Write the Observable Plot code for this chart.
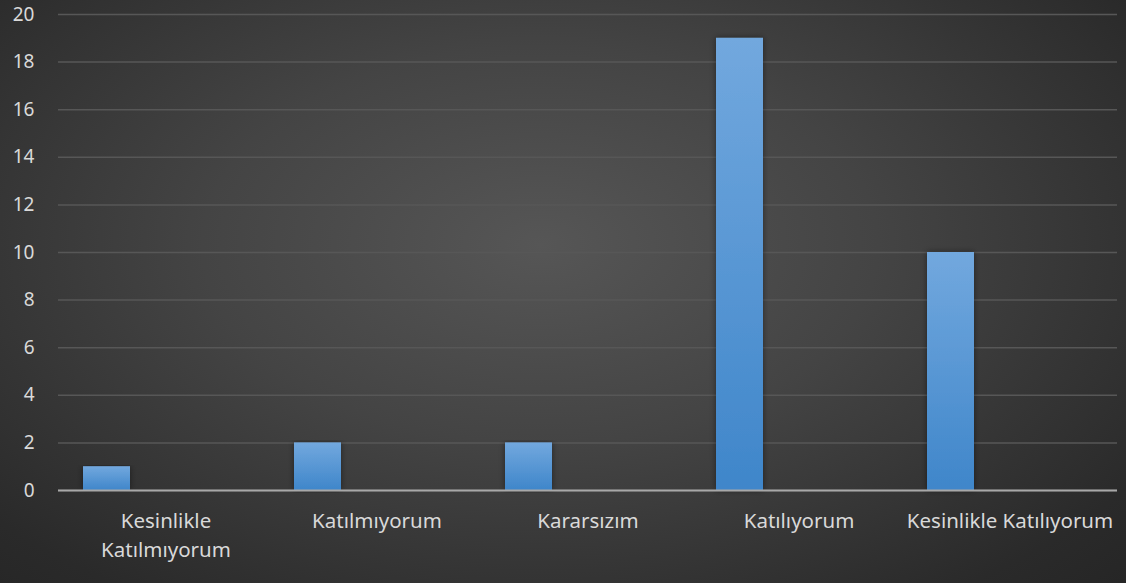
<!DOCTYPE html>
<html><head><meta charset="utf-8">
<script src="https://cdn.jsdelivr.net/npm/d3@7"></script>
<script src="https://cdn.jsdelivr.net/npm/@observablehq/plot@0.6"></script>
<style>
html,body{margin:0;padding:0;background:#262626;}
#chart{width:1126px;height:583px;background:radial-gradient(ellipse 75% 85% at 48% 42%, #565656 0%, #444444 40%, #2a2a2a 85%, #252525 100%);}
#chart svg{display:block;}
</style></head><body><div id="chart"></div>
<script>
const categories = ["Kesinlikle Katılmıyorum", "Katılmıyorum", "Kararsızım", "Katılıyorum", "Kesinlikle Katılıyorum"];
const xTickLabels = ["Kesinlikle\nKatılmıyorum", "Katılmıyorum", "Kararsızım", "Katılıyorum", "Kesinlikle Katılıyorum"];
const values = [1, 2, 2, 19, 10];
const yTicks = [0, 2, 4, 6, 8, 10, 12, 14, 16, 18, 20];

const data = categories.map((c, i) => ({category: c, value: values[i]}));
const labelOf = new Map(categories.map((c, i) => [c, xTickLabels[i]]));

const plot = Plot.plot({
  width: 1126, height: 583,
  marginTop: 14, marginBottom: 93, marginLeft: 58, marginRight: 9,
  style: {background: "transparent", fontFamily: "'Noto Sans', 'Open Sans', sans-serif", fontSize: "19px", color: "#d9d9d9"},
  x: {domain: categories, padding: 0, label: null},
  y: {domain: [0, 20], label: null},
  marks: [
    Plot.gridY(yTicks, {stroke: "#575757", strokeOpacity: 1, strokeWidth: 1.5}),
    Plot.barY(data, {x: "category", y: "value", fill: "url(#barGrad)", insetLeft: 23, insetRight: 141}),
    Plot.ruleY([0], {stroke: "#a8a8a8", strokeWidth: 2}),
    Plot.axisY(yTicks, {tickSize: 0, tickPadding: 24, fill: "#d9d9d9", fontSize: 19, label: null}),
    Plot.axisX({tickSize: 0, tickPadding: 17, fill: "#d9d9d9", fontSize: 20.5, lineHeight: 1.4, label: null, tickFormat: d => labelOf.get(d)})
  ]
});

const svg = d3.select(plot);
const defs = svg.insert("defs", ":first-child");
const g = defs.append("linearGradient").attr("id", "barGrad").attr("x1", 0).attr("y1", 0).attr("x2", 0).attr("y2", 1);
g.append("stop").attr("offset", "0%").attr("stop-color", "#72a8de");
g.append("stop").attr("offset", "100%").attr("stop-color", "#3f86ca");
const f = defs.append("filter").attr("id", "barShadow").attr("x", "-20%").attr("y", "-5%").attr("width", "140%").attr("height", "110%");
f.append("feDropShadow").attr("dx", 0).attr("dy", 0).attr("stdDeviation", 3).attr("flood-color", "#000").attr("flood-opacity", 0.45);
svg.selectAll("rect").filter(function(){ return this.getAttribute("fill") === "url(#barGrad)" || (this.parentNode && this.parentNode.getAttribute("fill") === "url(#barGrad)"); }).attr("filter", "url(#barShadow)");

document.getElementById("chart").appendChild(plot);
</script>
</body></html>
